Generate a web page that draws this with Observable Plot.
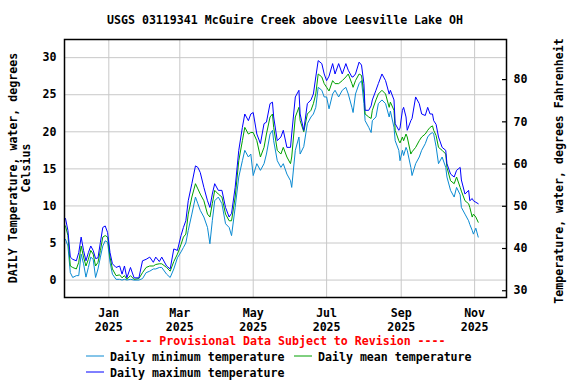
<!DOCTYPE html>
<html><head><meta charset="utf-8">
<script src="https://cdn.jsdelivr.net/npm/d3@7"></script>
<script src="https://cdn.jsdelivr.net/npm/@observablehq/plot@0.6"></script>
<style>html,body{margin:0;padding:0;background:#fff} svg{display:block}</style>
</head><body><div id="chart"></div>
<script>
const title = "USGS 03119341 McGuire Creek above Leesville Lake OH";
const yLabelLeft = ["DAILY Temperature, water, degrees", "Celsius"];
const yLabelRight = "Temperature, water, degrees Fahrenheit";
const caption = "---- Provisional Data Subject to Revision ----";
const seriesNames = ["Daily minimum temperature", "Daily mean temperature", "Daily maximum temperature"];
const seriesColors = ["#0a8ad2", "#00a000", "#0000ff"];
const celsiusTicks = [0, 5, 10, 15, 20, 25, 30];
const fahrenheitTicks = [30, 40, 50, 60, 70, 80];
const monthTicks = ["2025-01-01", "2025-03-01", "2025-05-01", "2025-07-01", "2025-09-01", "2025-11-01"];
const xDomain = ["2024-11-25T04:00Z", "2025-11-27T12:00Z"];
const yDomain = [-2.35, 32.45];
const fDomain = [28.4, 89.5];

const dates = [
  "2024-11-26","2024-11-28","2024-11-30","2024-12-02","2024-12-05","2024-12-07","2024-12-09","2024-12-11","2024-12-13","2024-12-15",
  "2024-12-17","2024-12-19","2024-12-21","2024-12-23","2024-12-25","2024-12-27","2024-12-29","2024-12-31",
  "2025-01-02","2025-01-04","2025-01-07","2025-01-10","2025-01-12","2025-01-14","2025-01-16","2025-01-19","2025-01-22","2025-01-26","2025-01-29",
  "2025-02-01","2025-02-04","2025-02-07","2025-02-09","2025-02-12","2025-02-14","2025-02-18","2025-02-21","2025-02-24","2025-02-27",
  "2025-03-02","2025-03-04","2025-03-06","2025-03-08","2025-03-11","2025-03-14","2025-03-16","2025-03-18","2025-03-21","2025-03-24","2025-03-26","2025-03-28","2025-03-30",
  "2025-04-02","2025-04-05","2025-04-08","2025-04-11","2025-04-13","2025-04-16","2025-04-19","2025-04-22","2025-04-24","2025-04-27","2025-04-29",
  "2025-05-01","2025-05-04","2025-05-07","2025-05-10","2025-05-12","2025-05-15","2025-05-17","2025-05-18","2025-05-21","2025-05-24","2025-05-26","2025-05-29",
  "2025-06-01","2025-06-02","2025-06-05","2025-06-08","2025-06-09","2025-06-12","2025-06-15","2025-06-18","2025-06-20","2025-06-22","2025-06-24","2025-06-27","2025-06-29",
  "2025-07-01","2025-07-03","2025-07-06","2025-07-08","2025-07-11","2025-07-14","2025-07-17","2025-07-19","2025-07-22","2025-07-23","2025-07-25","2025-07-28","2025-07-30",
  "2025-08-01","2025-08-02","2025-08-05","2025-08-07","2025-08-08","2025-08-11","2025-08-13","2025-08-16","2025-08-19","2025-08-22","2025-08-23","2025-08-26","2025-08-27","2025-08-30","2025-08-31",
  "2025-09-02","2025-09-03","2025-09-05","2025-09-06","2025-09-09","2025-09-10","2025-09-13","2025-09-16","2025-09-18","2025-09-21","2025-09-23","2025-09-25","2025-09-27","2025-09-28","2025-09-30",
  "2025-10-02","2025-10-05","2025-10-08","2025-10-09","2025-10-12","2025-10-15","2025-10-17","2025-10-20","2025-10-21","2025-10-24","2025-10-27","2025-10-28","2025-10-30","2025-10-31",
  "2025-11-02","2025-11-04"
];
const tMax = [
  8.3,6.7,3.1,2.8,2.6,3.7,5.8,4.0,2.6,3.7,
  4.6,4.0,2.9,3.0,5.1,7.1,7.3,6.4,
  3.7,2.2,1.7,1.9,0.8,1.9,0.3,1.7,0.3,0.3,2.6,
  2.8,3.1,2.4,3.1,2.5,3.1,1.9,1.5,4.2,4.0,
  6.0,7.1,8.0,10.7,13.0,15.4,15.2,14.5,12.5,10.7,9.8,11.6,13.0,
  12.1,12.1,9.8,8.5,9.0,12.5,17.5,20.6,22.4,21.5,22.4,
  22.6,19.7,18.4,21.1,21.3,23.8,24.0,22.0,18.8,19.3,20.2,17.9,
  17.9,19.7,24.7,25.6,22.4,20.2,23.8,24.3,25.1,27.4,29.6,29.2,27.8,
  26.9,27.5,29.2,27.8,29.2,27.8,29.2,28.3,27.4,27.4,27.8,29.4,29.0,
  26.5,22.9,22.9,23.5,24.3,25.6,26.5,27.8,26.9,25.1,25.6,24.3,21.1,20.2,20.5,
  22.9,23.3,22.0,20.2,21.5,21.8,24.7,23.8,22.4,22.2,23.3,22.4,22.4,21.5,21.0,
  19.3,17.9,17.5,15.7,14.3,13.9,14.8,15.2,13.5,11.6,12.1,10.7,11.0,10.7,
  10.5,10.3
];
const tMean = [
  7.3,6.0,1.9,1.7,1.5,2.4,4.6,3.1,1.9,2.8,
  4.0,3.5,1.9,2.4,4.0,5.8,6.0,5.8,
  3.1,1.5,0.6,0.7,0.3,0.6,0.1,0.6,0.1,0.2,1.0,
  1.7,1.9,1.9,2.1,2.2,2.2,1.7,1.2,2.5,3.5,
  4.8,5.8,6.2,8.9,11.2,13.0,12.3,11.6,10.7,8.9,8.5,10.3,12.1,
  11.6,11.2,8.9,8.0,8.0,11.2,16.1,18.8,20.6,19.7,19.9,
  19.9,18.8,16.6,17.9,19.7,22.0,22.4,20.6,17.5,17.0,17.9,16.6,
  15.7,16.6,22.0,23.3,21.5,20.0,22.4,22.9,23.8,25.1,27.8,27.4,26.5,
  26.0,25.5,26.9,26.5,26.5,26.9,27.4,27.8,26.5,26.0,26.9,27.8,27.6,
  25.1,22.4,22.0,21.8,22.9,24.3,25.1,25.6,25.1,23.3,24.0,22.9,20.2,18.8,18.5,
  19.3,18.8,19.7,19.3,17.0,17.3,17.9,18.8,19.3,19.7,20.2,20.6,20.8,20.2,19.5,
  17.9,17.5,17.0,15.2,13.4,13.0,13.9,12.5,12.0,10.7,10.3,9.8,8.5,8.9,
  8.5,7.8
];
const tMin = [
  5.5,4.6,1.0,0.35,0.6,0.6,3.5,2.2,0.4,1.7,
  3.1,2.8,0.35,1.5,3.1,4.6,5.3,5.1,
  2.4,0.8,0.1,0.1,0.0,0.1,0.0,0.1,0.0,0.0,0.2,
  1.0,1.2,1.5,1.5,1.7,1.7,0.8,0.35,1.5,3.0,
  3.8,4.4,5.0,6.7,8.9,11.2,10.3,9.4,8.5,7.1,4.9,8.0,10.7,
  11.2,10.3,7.6,7.1,6.0,9.8,13.9,16.1,17.5,16.6,17.0,
  14.1,15.7,14.8,15.7,17.0,19.7,20.2,18.8,16.1,15.2,15.7,14.3,
  13.4,12.5,17.5,19.3,17.0,18.0,21.1,22.0,22.4,23.3,26.0,25.6,24.7,
  24.7,23.1,25.1,25.6,24.7,25.6,26.0,25.1,23.3,22.6,25.1,26.5,26.9,
  23.8,21.5,20.6,19.9,21.5,22.0,23.8,24.3,23.8,22.0,22.8,20.6,18.8,17.5,16.1,
  17.5,16.8,17.9,17.5,15.2,14.1,15.7,16.6,17.5,18.4,19.3,19.7,19.9,19.7,18.0,
  15.7,16.6,15.2,13.9,12.1,11.2,12.5,11.5,9.8,8.9,8.0,7.5,6.7,6.2,
  7.0,5.8
];

const parse = d3.utcParse("%Y-%m-%d");
const series = [tMin, tMean, tMax].map((vals, k) =>
  dates.map((d, i) => ({date: parse(d), value: vals[i], series: seriesNames[k]})));

// Fahrenheit axis position mapped onto the Celsius scale
const fToC = f => yDomain[0] + (f - fDomain[0]) / (fDomain[1] - fDomain[0]) * (yDomain[1] - yDomain[0]);
const cToF = c => fDomain[0] + (c - yDomain[0]) / (yDomain[1] - yDomain[0]) * (fDomain[1] - fDomain[0]);

const W = 576, H = 384, mL = 64, mR = 70, mT = 39, mB = 87;
const fontFamily = "DejaVu Sans Mono";

const plot = Plot.plot({
  width: W, height: H,
  marginLeft: mL, marginRight: mR, marginTop: mT, marginBottom: mB,
  style: {fontFamily, fontSize: "11.6px", fontWeight: "bold", background: "#fff", color: "#000"},
  x: {type: "utc", domain: xDomain.map(d => new Date(d))},
  y: {domain: yDomain},
  marks: [
    Plot.gridY(celsiusTicks, {stroke: "#c8c8c8", strokeOpacity: 1, strokeWidth: 1}),
    Plot.gridX(monthTicks.map(parse), {stroke: "#c8c8c8", strokeOpacity: 1, strokeWidth: 1}),
    ...series.map((s, k) => Plot.line(s, {x: "date", y: "value", stroke: seriesColors[k], strokeWidth: 1})),
    Plot.tickY(fahrenheitTicks.map(fToC), {y: d => d, stroke: "black", strokeWidth: 1.2, insetLeft: W - mL - mR - 4}),
    Plot.frame({stroke: "black", strokeWidth: 1.5}),
    Plot.axisY(celsiusTicks, {anchor: "left", tickSize: 0, tickPadding: 8, fill: "black", label: null}),
    Plot.axisY(fahrenheitTicks.map(fToC), {anchor: "right", tickSize: 0, tickPadding: 7, fill: "black", label: null, tickFormat: d => String(Math.round(cToF(d)))}),
    Plot.axisX(monthTicks.map(parse), {anchor: "bottom", tickSize: 0, tickPadding: 10, lineHeight: 1.2, fill: "black", label: null, tickFormat: d3.utcFormat("%b\n%Y")})
  ]
});
document.getElementById("chart").appendChild(plot);

// Title, axis titles, caption and legend
const svg = d3.select(plot);
const g = svg.append("g").attr("fill", "black").attr("text-anchor", "middle");
const cx = mL + (W - mL - mR) / 2;
const cy = mT + (H - mT - mB) / 2;
g.append("text").attr("x", cx).attr("y", 20).attr("dominant-baseline", "central").text(title);
yLabelLeft.forEach((t, i) => {
  g.append("text").attr("transform", `translate(${13 + i * 13},${cy}) rotate(-90)`)
    .attr("dominant-baseline", "central").text(t);
});
g.append("text").attr("transform", `translate(559,${cy + 3}) rotate(-90)`)
  .attr("dominant-baseline", "central").text(yLabelRight);
g.append("text").attr("x", cx).attr("y", 341).attr("dominant-baseline", "central")
  .attr("fill", "#ff0000").text(caption);
const legendPos = [[86, 357], [294, 357], [86, 373]];
seriesNames.forEach((name, k) => {
  const [lx, ly] = legendPos[k];
  g.append("line").attr("x1", lx).attr("x2", lx + 18).attr("y1", ly - 1).attr("y2", ly - 1)
    .attr("stroke", seriesColors[k]).attr("stroke-width", 1);
  g.append("text").attr("x", lx + 24).attr("y", ly).attr("text-anchor", "start")
    .attr("dominant-baseline", "central").text(name);
});
</script>
</body></html>
